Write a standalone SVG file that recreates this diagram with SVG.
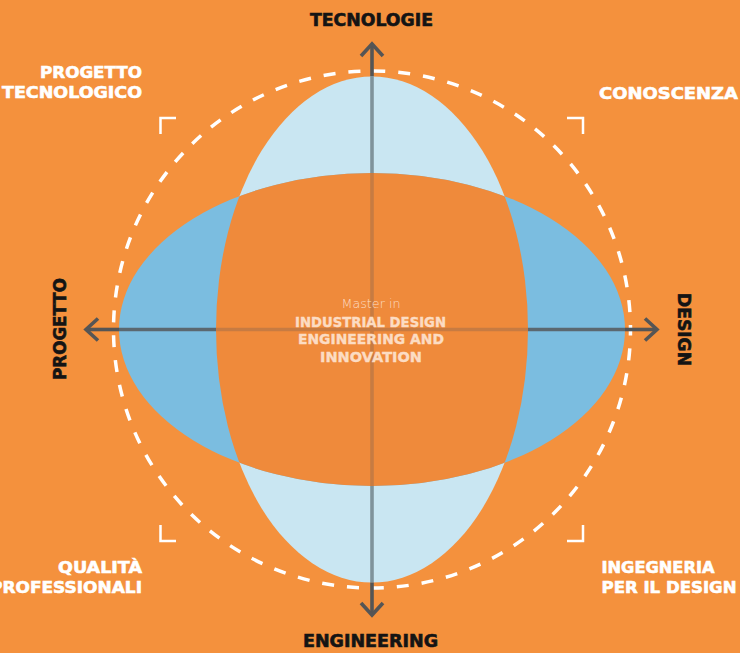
<svg xmlns="http://www.w3.org/2000/svg" width="740" height="653" viewBox="0 0 740 653">
  <defs>
    <style>
      .lbl { font-family: "DejaVu Sans", "Liberation Sans", sans-serif; font-weight: bold; font-size: 16px; fill: #ffffff; stroke: #ffffff; stroke-width: 0.6; }
      .axis-lbl { font-family: "DejaVu Sans", "Liberation Sans", sans-serif; font-weight: bold; font-size: 17px; fill: #141414; stroke: #141414; stroke-width: 0.6; }
      .center { font-family: "DejaVu Sans", "Liberation Sans", sans-serif; font-size: 14.5px; font-weight: bold; fill: #fcdcc3; stroke: #fcdcc3; stroke-width: 0.4; text-anchor: middle; }
      .center-light { font-family: "DejaVu Sans", "Liberation Sans", sans-serif; font-size: 13px; font-weight: 200; fill: #fcdcc3; text-anchor: middle; }
      .bracket { fill: none; stroke: #ffffff; stroke-width: 2.5; }
      .ax { fill: none; stroke-width: 3.6; }
      .ax-out { stroke: #555555; }
      .ax-light { stroke: #7f939b; }
      .ax-mid { stroke: #5b6870; }
      .ax-core { stroke: #c77b42; }
      .head { fill: none; stroke: #555555; stroke-width: 3.6; stroke-linecap: butt; stroke-linejoin: miter; }
    </style>
    <clipPath id="clip-vertical">
      <ellipse cx="372" cy="329.5" rx="156" ry="253"/>
    </clipPath>
  </defs>

  <!-- background -->
  <rect x="0" y="0" width="740" height="653" fill="#f4913d"/>

  <!-- overlapping ellipses -->
  <g id="ellipses">
    <ellipse id="vertical-ellipse" cx="372" cy="329.5" rx="156" ry="253" fill="#c9e6f2"/>
    <ellipse id="horizontal-ellipse" cx="372" cy="329.5" rx="253" ry="156.5" fill="#7bbde0"/>
    <ellipse id="core" cx="372" cy="329.5" rx="253" ry="156.5" fill="#ef8a3b" clip-path="url(#clip-vertical)"/>
  </g>

  <!-- dashed ring -->
  <circle id="ring" cx="372" cy="329.5" r="258.5" fill="none" stroke="#ffffff" stroke-width="3.5" stroke-dasharray="12 13" stroke-dashoffset="6"/>

  <!-- corner brackets -->
  <g id="brackets">
    <polyline class="bracket" points="176,118 160.5,118 160.5,134"/>
    <polyline class="bracket" points="567,118 583,118 583,134"/>
    <polyline class="bracket" points="160.5,525 160.5,541 176,541"/>
    <polyline class="bracket" points="583,525 583,541 567,541"/>
  </g>

  <!-- axes -->
  <g id="connectors">
    <g id="axis-vertical">
      <line class="ax ax-out" x1="372" y1="45" x2="372" y2="76"/>
      <line class="ax ax-light" x1="372" y1="76" x2="372" y2="173"/>
      <line class="ax ax-core" x1="372" y1="173" x2="372" y2="486"/>
      <line class="ax ax-light" x1="372" y1="486" x2="372" y2="582.5"/>
      <line class="ax ax-out" x1="372" y1="582.5" x2="372" y2="613"/>
      <polyline class="head" points="361,56 372,44 383,56"/>
      <polyline class="head" points="361,603 372,615 383,603"/>
    </g>
    <g id="axis-horizontal">
      <line class="ax ax-out" x1="87" y1="329.5" x2="119" y2="329.5"/>
      <line class="ax ax-mid" x1="119" y1="329.5" x2="216" y2="329.5"/>
      <line class="ax ax-core" x1="216" y1="329.5" x2="528" y2="329.5"/>
      <line class="ax ax-mid" x1="528" y1="329.5" x2="625" y2="329.5"/>
      <line class="ax ax-out" x1="625" y1="329.5" x2="656" y2="329.5"/>
      <polyline class="head" points="98,318.5 86,329.5 98,340.5"/>
      <polyline class="head" points="645,318.5 657,329.5 645,340.5"/>
    </g>
  </g>

  <!-- axis labels -->
  <g id="node-tecnologie">
    <text class="axis-lbl" x="371.5" y="26" text-anchor="middle" textLength="123" lengthAdjust="spacingAndGlyphs">TECNOLOGIE</text>
  </g>
  <g id="node-engineering">
    <text class="axis-lbl" x="370.5" y="647" text-anchor="middle" textLength="135" lengthAdjust="spacingAndGlyphs">ENGINEERING</text>
  </g>
  <g id="node-progetto">
    <text class="axis-lbl" transform="translate(65.5,329) rotate(-90)" x="0" y="0" text-anchor="middle" textLength="102" lengthAdjust="spacingAndGlyphs">PROGETTO</text>
  </g>
  <g id="node-design">
    <text class="axis-lbl" transform="translate(678,329.5) rotate(90)" x="0" y="0" text-anchor="middle" textLength="73" lengthAdjust="spacingAndGlyphs">DESIGN</text>
  </g>

  <!-- corner labels -->
  <g id="node-progetto-tecnologico">
    <text class="lbl" x="142" y="78" text-anchor="end" textLength="102" lengthAdjust="spacingAndGlyphs">PROGETTO</text>
    <text class="lbl" x="142" y="98" text-anchor="end" textLength="140" lengthAdjust="spacingAndGlyphs">TECNOLOGICO</text>
  </g>
  <g id="node-conoscenza">
    <text class="lbl" x="599" y="98.5" textLength="139" lengthAdjust="spacingAndGlyphs">CONOSCENZA</text>
  </g>
  <g id="node-qualita-professionali">
    <text class="lbl" x="142" y="573" text-anchor="end" textLength="84" lengthAdjust="spacingAndGlyphs">QUALITÀ</text>
    <text class="lbl" x="142" y="593" text-anchor="end" textLength="152" lengthAdjust="spacingAndGlyphs">PROFESSIONALI</text>
  </g>
  <g id="node-ingegneria-design">
    <text class="lbl" x="601.5" y="572.5" textLength="113" lengthAdjust="spacingAndGlyphs">INGEGNERIA</text>
    <text class="lbl" x="601.5" y="593" textLength="135" lengthAdjust="spacingAndGlyphs">PER IL DESIGN</text>
  </g>

  <!-- central title -->
  <g id="node-master">
    <text class="center-light" x="371" y="308" textLength="59" lengthAdjust="spacingAndGlyphs">Master in</text>
    <text class="center" x="370.5" y="326.5" textLength="151" lengthAdjust="spacingAndGlyphs">INDUSTRIAL DESIGN</text>
    <text class="center" x="371" y="344" textLength="146" lengthAdjust="spacingAndGlyphs">ENGINEERING AND</text>
    <text class="center" x="371" y="361.5" textLength="102" lengthAdjust="spacingAndGlyphs">INNOVATION</text>
  </g>
</svg>
